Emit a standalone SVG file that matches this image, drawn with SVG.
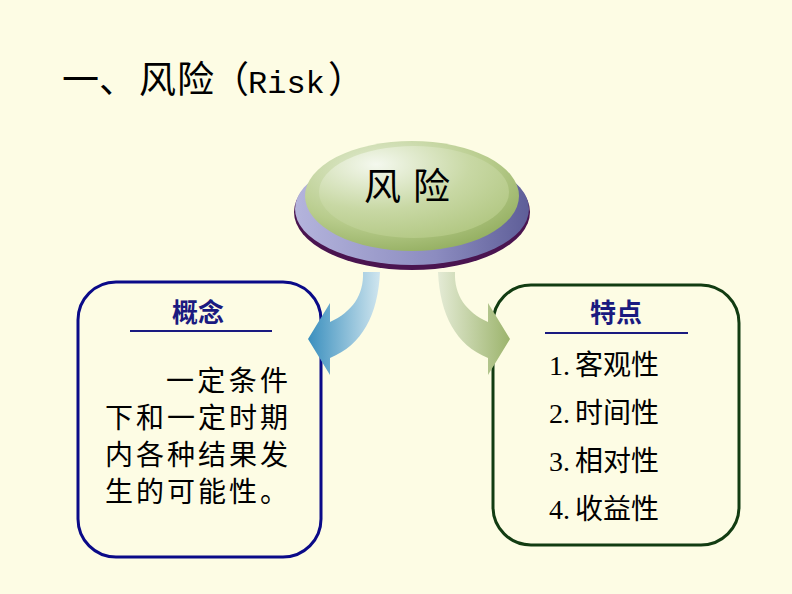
<svg xmlns="http://www.w3.org/2000/svg" width="792" height="594" viewBox="0 0 792 594">
<defs>
<style>
.cjk{font-family:"Noto Sans CJK SC","Noto Sans",sans-serif;}
.title{font-size:37px;fill:#000;}
.head{font-size:26px;fill:#1A1A80;font-weight:bold;text-anchor:middle;}
.body{font-size:28px;fill:#000;}
.rule{stroke:#1A1A80;stroke-width:2;}
</style>
<linearGradient id="purple" x1="0" y1="0" x2="1" y2="0">
<stop offset="0" stop-color="#B4B4DC"/>
<stop offset="0.6" stop-color="#8C8CC0"/>
<stop offset="1" stop-color="#5E5E98"/>
</linearGradient>
<radialGradient id="green" cx="0.35" cy="0.25" r="0.85">
<stop offset="0" stop-color="#E4EDD4"/>
<stop offset="0.6" stop-color="#B8CC8C"/>
<stop offset="1" stop-color="#8EAA5A"/>
</radialGradient>
<radialGradient id="greenIn" cx="0.3" cy="0.2" r="0.9">
<stop offset="0" stop-color="#F4F8EE"/>
<stop offset="0.55" stop-color="#C8D8A4"/>
<stop offset="1" stop-color="#B0C680"/>
</radialGradient>
<linearGradient id="blueArrow" gradientUnits="userSpaceOnUse" x1="308" y1="0" x2="382" y2="0">
<stop offset="0" stop-color="#3A8FBE"/>
<stop offset="1" stop-color="#D4E8F0"/>
</linearGradient>
<linearGradient id="greenArrow" gradientUnits="userSpaceOnUse" x1="436" y1="0" x2="510" y2="0">
<stop offset="0" stop-color="#E6ECD8"/>
<stop offset="1" stop-color="#9CB46C"/>
</linearGradient>
</defs>
<rect width="792" height="594" fill="#FDFCE4"/>

<text class="cjk title" y="93"><tspan x="62">一</tspan><tspan x="99">、</tspan><tspan x="139">风</tspan><tspan x="177">险</tspan><tspan x="212">（</tspan><tspan x="248" font-family="Liberation Mono" font-size="32">Risk</tspan><tspan x="328">）</tspan></text>

<g id="risk">
<ellipse cx="412" cy="212" rx="118" ry="58" fill="#4A1450"/>
<ellipse cx="412" cy="209" rx="117" ry="56" fill="url(#purple)"/>
<ellipse cx="412" cy="196" rx="107" ry="55" fill="url(#green)"/>
<ellipse cx="414" cy="192" rx="95" ry="46" fill="url(#greenIn)"/>
<text class="cjk" x="413" y="200" font-size="37" text-anchor="middle" fill="#000" letter-spacing="12">风险</text>
</g>

<g id="concept">
<rect x="78" y="282" width="243" height="275" rx="38" fill="none" stroke="#0A0A88" stroke-width="3"/>
<text class="cjk head" x="198" y="322">概念</text>
<line class="rule" x1="130" y1="331" x2="272" y2="331"/>
<text class="cjk body" x="166" y="391" textLength="122" lengthAdjust="spacing">一定条件</text>
<text class="cjk body" x="105" y="428" textLength="183" lengthAdjust="spacing">下和一定时期</text>
<text class="cjk body" x="105" y="465" textLength="183" lengthAdjust="spacing">内各种结果发</text>
<text class="cjk body" x="105" y="502" textLength="183" lengthAdjust="spacing">生的可能性。</text>
</g>

<g id="features">
<rect x="493" y="285" width="246" height="260" rx="38" fill="none" stroke="#123C12" stroke-width="3"/>
<text class="cjk head" x="616" y="322">特点</text>
<line class="rule" x1="545" y1="333" x2="688" y2="333"/>
<text class="cjk body" x="549" y="375"><tspan font-family="Liberation Serif">1.</tspan><tspan dx="5">客观性</tspan></text>
<text class="cjk body" x="549" y="423"><tspan font-family="Liberation Serif">2.</tspan><tspan dx="5">时间性</tspan></text>
<text class="cjk body" x="549" y="471"><tspan font-family="Liberation Serif">3.</tspan><tspan dx="5">相对性</tspan></text>
<text class="cjk body" x="549" y="519"><tspan font-family="Liberation Serif">4.</tspan><tspan dx="5">收益性</tspan></text>
</g>

<g id="connectors">
<path d="M380 272 C378 315 362 345 330 358 L330 375 L308 339 L330 303 L330 322 C352 312 364 295 363 272 Z" fill="url(#blueArrow)"/>
<path d="M438 272 C440 315 456 345 488 358 L488 375 L510 339 L488 303 L488 322 C466 312 454 295 455 272 Z" fill="url(#greenArrow)"/>
</g>
</svg>
